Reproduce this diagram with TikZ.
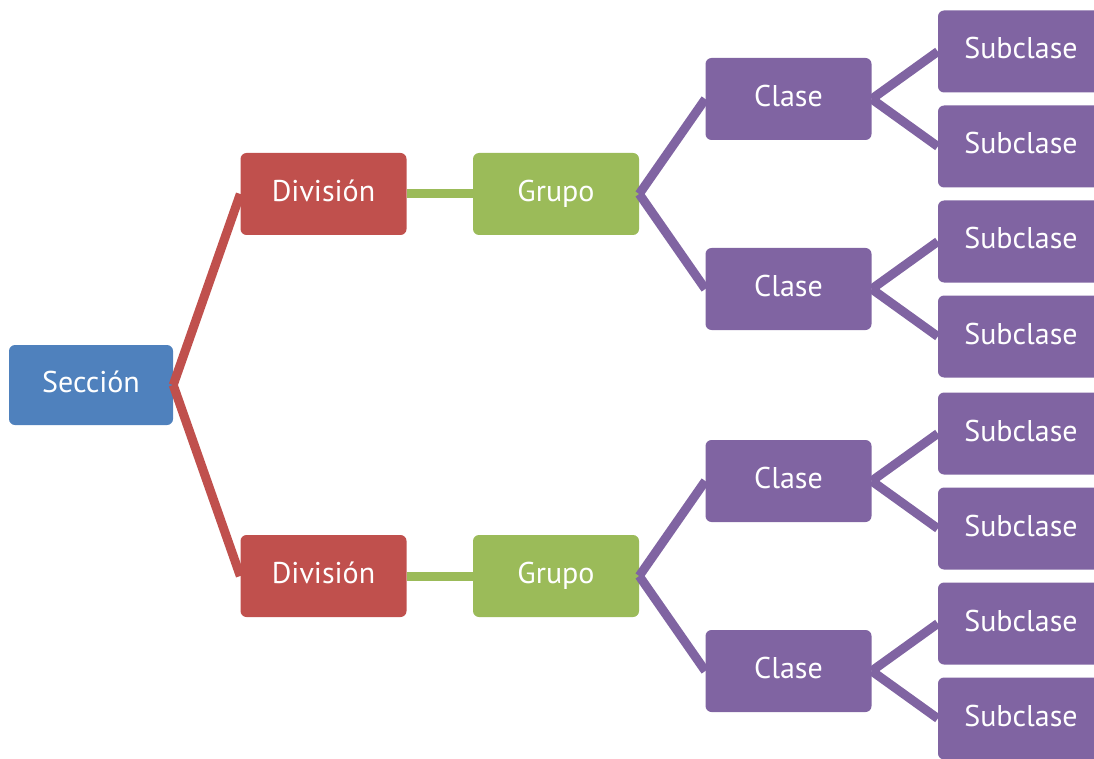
\documentclass[tikz,border=0pt]{standalone}
\usepackage{fontspec}
\setmainfont{PT Sans}

\definecolor{secblue}{HTML}{4F81BD}
\definecolor{divred}{HTML}{C0504D}
\definecolor{grugreen}{HTML}{9BBB59}
\definecolor{clapurple}{HTML}{8064A2}

\begin{document}
\begin{tikzpicture}[x=1pt,y=1pt,
            grow=right,
            level distance=232.5pt,
            every node/.style={rounded corners=6pt,text=white,inner sep=0pt,
                minimum width=166pt,minimum height=82pt,
                text height=21pt,text depth=6pt,
                font=\fontsize{30}{34}\selectfont},
            secbox/.style={fill=secblue,minimum width=164pt,minimum height=80pt},
            divbox/.style={fill=divred},
            grubox/.style={fill=grugreen},
            clabox/.style={fill=clapurple},
            edge from parent path={(\tikzparentnode.east) -- (\tikzchildnode.west)},
            level 1/.style={sibling distance=382pt,
                edge from parent/.style={draw=divred,line width=9pt}},
            level 2/.style={edge from parent/.style={draw=grugreen,line width=9pt}},
            level 3/.style={sibling distance=190pt,
                edge from parent/.style={draw=clapurple,line width=9pt}},
            level 4/.style={sibling distance=95pt,
                edge from parent/.style={draw=clapurple,line width=9pt}},
            ]

            \useasboundingbox (0,0) rectangle (1094,-759);

            \node[secbox] (sec) at (91,-385) {Sección}
                child {node[divbox] (div1) {División}
                    child {node[grubox] (gru1) {Grupo}
                        child {node[clabox] (cla1) {Clase}
                            child {node[clabox] (sub1) {Subclase}}
                            child {node[clabox] (sub2) {Subclase}}
                        }
                        child {node[clabox] (cla2) {Clase}
                            child {node[clabox] (sub3) {Subclase}}
                            child {node[clabox] (sub4) {Subclase}}
                        }
                    }
                }
                child {node[divbox] (div2) {División}
                    child {node[grubox] (gru2) {Grupo}
                        child {node[clabox] (cla3) {Clase}
                            child {node[clabox] (sub5) {Subclase}}
                            child {node[clabox] (sub6) {Subclase}}
                        }
                        child {node[clabox] (cla4) {Clase}
                            child {node[clabox] (sub7) {Subclase}}
                            child {node[clabox] (sub8) {Subclase}}
                        }
                    }
                };
\end{tikzpicture}
\end{document}
